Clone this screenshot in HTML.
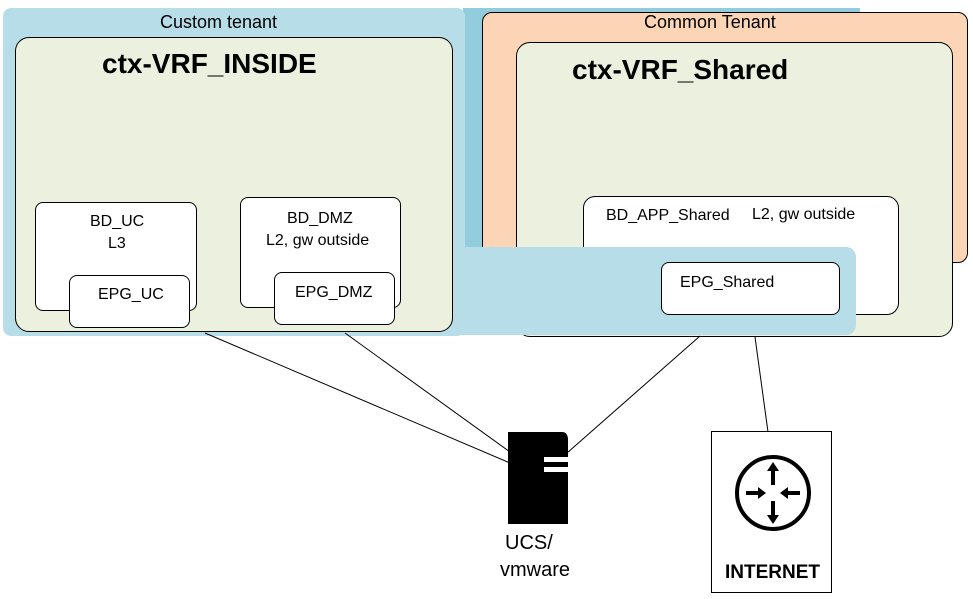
<!DOCTYPE html>
<html><head><style>
body{margin:0;width:973px;height:599px;background:#fff;position:relative;overflow:hidden;font-family:"Liberation Sans",sans-serif}
.a{position:absolute;box-sizing:border-box}
.w{background:#fff;border:1px solid #000;border-radius:8px}
.t{position:absolute;font-size:16px;color:#000;white-space:nowrap}
</style></head><body>
<div class="a" style="left:463px;top:8px;width:397px;height:240px;background:#93cddd"></div>
<div class="a" style="left:3px;top:8px;width:462px;height:328px;background:#b7dee8;border-radius:8px"></div>
<div class="a" style="left:482px;top:12px;width:486px;height:251px;background:#fbd5b5;border:1px solid #000;border-radius:10px"></div>
<div class="t" style="left:644px;top:12px;font-size:18px">Common Tenant</div>
<div class="t" style="left:160px;top:12px;font-size:18px">Custom tenant</div>
<div class="a" style="left:516px;top:42px;width:437px;height:295px;background:#ebf1de;border:1px solid #000;border-radius:14px"></div>
<div class="t" style="left:572px;top:54px;font-size:28px;font-weight:bold">ctx-VRF_Shared</div>
<div class="a w" style="left:583px;top:196px;width:316px;height:119px;border-radius:12px"></div>
<div class="t" style="left:606px;top:207px">BD_APP_Shared</div>
<div class="t" style="left:752px;top:206px">L2, gw outside</div>
<div class="a" style="left:440px;top:247px;width:416px;height:88px;background:#b7dee8;border-radius:0 10px 10px 0"></div>
<div class="a w" style="left:661px;top:262px;width:179px;height:53px"></div>
<div class="t" style="left:680px;top:274px">EPG_Shared</div>
<div class="a" style="left:15px;top:37px;width:438px;height:295px;background:#ebf1de;border:1px solid #000;border-radius:14px"></div>
<div class="t" style="left:102px;top:48px;font-size:28px;font-weight:bold">ctx-VRF_INSIDE</div>
<div class="a w" style="left:35px;top:202px;width:162px;height:109px"></div>
<div class="t" style="left:90px;top:213px">BD_UC</div>
<div class="t" style="left:108px;top:235px">L3</div>
<div class="a w" style="left:69px;top:275px;width:121px;height:53px"></div>
<div class="t" style="left:98px;top:286px">EPG_UC</div>
<div class="a w" style="left:240px;top:197px;width:161px;height:111px"></div>
<div class="t" style="left:287px;top:210px">BD_DMZ</div>
<div class="t" style="left:266px;top:232px">L2, gw outside</div>
<div class="a w" style="left:274px;top:272px;width:121px;height:53px"></div>
<div class="t" style="left:295px;top:284px">EPG_DMZ</div>
<svg class="a" style="left:0;top:0" width="973" height="599">
<g stroke="#000" stroke-width="1">
<line x1="205" y1="333" x2="510" y2="463"/>
<line x1="345" y1="333" x2="510" y2="452"/>
<line x1="700" y1="336" x2="567" y2="453"/>
<line x1="755" y1="337" x2="768" y2="432"/>
</g>
<path d="M508 432 H562 Q568 432 568 440 V457 H544 V462 H568 V467 H544 V472 H568 V524 H508 Z" fill="#000"/>
<rect x="711.5" y="431.5" width="120" height="161" fill="#fff" stroke="#000"/>
<circle cx="773" cy="493" r="36" fill="none" stroke="#000" stroke-width="4"/>
<g stroke="#000" stroke-width="4">
<line x1="773" y1="466" x2="773" y2="485"/><line x1="773" y1="501" x2="773" y2="520"/>
<line x1="746" y1="493" x2="762" y2="493"/><line x1="800" y1="493" x2="784" y2="493"/>
</g>
<g fill="#000">
<path d="M773 462 l-6 9 h12z"/><path d="M773 524 l-6 -9 h12z"/>
<path d="M766 493 l-8 -6 v12z"/><path d="M780 493 l8 -6 v12z"/>
</g>
</svg>
<div class="t" style="left:505px;top:532px;font-size:20px">UCS/</div>
<div class="t" style="left:500px;top:559px;font-size:20px">vmware</div>
<div class="t" style="left:725px;top:562px;font-size:19px;font-weight:bold">INTERNET</div>
</body></html>
